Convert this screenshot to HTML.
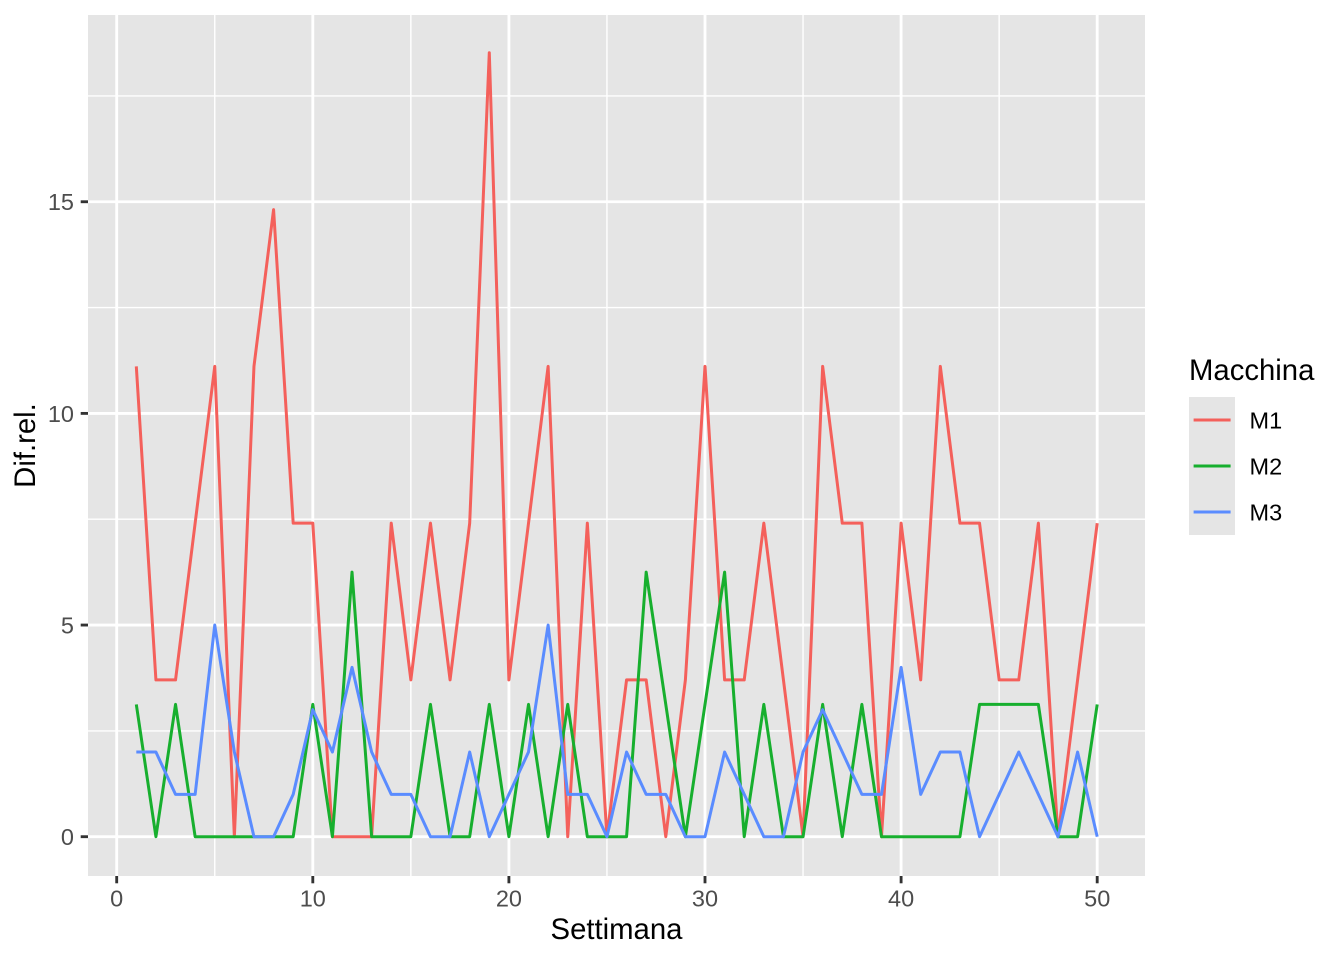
<!DOCTYPE html>
<html>
<head>
<meta charset="utf-8">
<style>
  html, body { margin: 0; padding: 0; background: #FFFFFF; }
  svg { display: block; }
  text { font-family: "Liberation Sans", Arial, Helvetica, sans-serif; }
</style>
</head>
<body>
<svg width="1344" height="960" viewBox="0 0 1344 960" xmlns="http://www.w3.org/2000/svg">
  <rect x="0" y="0" width="1344" height="960" fill="#FFFFFF"/>
  <!-- panel -->
  <rect x="88" y="15" width="1057" height="861" fill="#E5E5E5"/>
  <!-- minor grid -->
  <g stroke="#FFFFFF" stroke-width="1.42" fill="none">
    <line x1="88" x2="1145" y1="730.9" y2="730.9"/>
    <line x1="88" x2="1145" y1="519.2" y2="519.2"/>
    <line x1="88" x2="1145" y1="307.6" y2="307.6"/>
    <line x1="88" x2="1145" y1="95.9" y2="95.9"/>
    <line y1="15" y2="876" x1="214.75" x2="214.75"/>
    <line y1="15" y2="876" x1="410.85" x2="410.85"/>
    <line y1="15" y2="876" x1="606.95" x2="606.95"/>
    <line y1="15" y2="876" x1="803.05" x2="803.05"/>
    <line y1="15" y2="876" x1="999.15" x2="999.15"/>
  </g>
  <!-- major grid -->
  <g stroke="#FFFFFF" stroke-width="2.85" fill="none">
    <line x1="88" x2="1145" y1="836.7" y2="836.7"/>
    <line x1="88" x2="1145" y1="625.05" y2="625.05"/>
    <line x1="88" x2="1145" y1="413.4" y2="413.4"/>
    <line x1="88" x2="1145" y1="201.75" y2="201.75"/>
    <line y1="15" y2="876" x1="116.7" x2="116.7"/>
    <line y1="15" y2="876" x1="312.8" x2="312.8"/>
    <line y1="15" y2="876" x1="508.9" x2="508.9"/>
    <line y1="15" y2="876" x1="705.0" x2="705.0"/>
    <line y1="15" y2="876" x1="901.1" x2="901.1"/>
    <line y1="15" y2="876" x1="1097.2" x2="1097.2"/>
  </g>

  <!-- data series -->
  <g transform="translate(116.7,836.7) scale(19.61,-42.33)" fill="none" stroke-linejoin="round" stroke-linecap="butt">
    <polyline vector-effect="non-scaling-stroke" stroke="#F4605B" stroke-width="3"
      points="1,11.111 2,3.704 3,3.704 4,7.407 5,11.111 6,0 7,11.111 8,14.815 9,7.407 10,7.407 11,0 12,0 13,0 14,7.407 15,3.704 16,7.407 17,3.704 18,7.407 19,18.519 20,3.704 21,7.407 22,11.111 23,0 24,7.407 25,0 26,3.704 27,3.704 28,0 29,3.704 30,11.111 31,3.704 32,3.704 33,7.407 34,3.704 35,0 36,11.111 37,7.407 38,7.407 39,0 40,7.407 41,3.704 42,11.111 43,7.407 44,7.407 45,3.704 46,3.704 47,7.407 48,0 49,3.704 50,7.407"/>
    <polyline vector-effect="non-scaling-stroke" stroke="#17AF2E" stroke-width="3"
      points="1,3.125 2,0 3,3.125 4,0 5,0 6,0 7,0 8,0 9,0 10,3.125 11,0 12,6.25 13,0 14,0 15,0 16,3.125 17,0 18,0 19,3.125 20,0 21,3.125 22,0 23,3.125 24,0 25,0 26,0 27,6.25 28,3.125 29,0 30,3.125 31,6.25 32,0 33,3.125 34,0 35,0 36,3.125 37,0 38,3.125 39,0 40,0 41,0 42,0 43,0 44,3.125 45,3.125 46,3.125 47,3.125 48,0 49,0 50,3.125"/>
    <polyline vector-effect="non-scaling-stroke" stroke="#5A8CFF" stroke-width="3"
      points="1,2 2,2 3,1 4,1 5,5 6,2 7,0 8,0 9,1 10,3 11,2 12,4 13,2 14,1 15,1 16,0 17,0 18,2 19,0 20,1 21,2 22,5 23,1 24,1 25,0 26,2 27,1 28,1 29,0 30,0 31,2 32,1 33,0 34,0 35,2 36,3 37,2 38,1 39,1 40,4 41,1 42,2 43,2 44,0 45,1 46,2 47,1 48,0 49,2 50,0"/>
  </g>

  <!-- axis ticks -->
  <g stroke="#333333" stroke-width="2.85">
    <line x1="80.7" x2="88" y1="836.7" y2="836.7"/>
    <line x1="80.7" x2="88" y1="625.05" y2="625.05"/>
    <line x1="80.7" x2="88" y1="413.4" y2="413.4"/>
    <line x1="80.7" x2="88" y1="201.75" y2="201.75"/>
    <line y1="876" y2="883.3" x1="116.7" x2="116.7"/>
    <line y1="876" y2="883.3" x1="312.8" x2="312.8"/>
    <line y1="876" y2="883.3" x1="508.9" x2="508.9"/>
    <line y1="876" y2="883.3" x1="705.0" x2="705.0"/>
    <line y1="876" y2="883.3" x1="901.1" x2="901.1"/>
    <line y1="876" y2="883.3" x1="1097.2" x2="1097.2"/>
  </g>

  <!-- tick labels -->
  <g fill="#4D4D4D" font-size="23.5">
    <text x="74" y="845.1" text-anchor="end">0</text>
    <text x="74" y="633.45" text-anchor="end">5</text>
    <text x="74" y="421.8" text-anchor="end">10</text>
    <text x="74" y="210.15" text-anchor="end">15</text>
    <text x="116.7" y="906.5" text-anchor="middle">0</text>
    <text x="312.8" y="906.5" text-anchor="middle">10</text>
    <text x="508.9" y="906.5" text-anchor="middle">20</text>
    <text x="705.0" y="906.5" text-anchor="middle">30</text>
    <text x="901.1" y="906.5" text-anchor="middle">40</text>
    <text x="1097.2" y="906.5" text-anchor="middle">50</text>
  </g>

  <!-- axis titles -->
  <text x="616.5" y="939" text-anchor="middle" font-size="29.3" fill="#000000">Settimana</text>
  <text x="0" y="0" transform="translate(35,445.5) rotate(-90)" text-anchor="middle" font-size="29.3" fill="#000000">Dif.rel.</text>

  <!-- legend -->
  <text x="1189" y="380" font-size="29.3" fill="#000000">Macchina</text>
  <rect x="1189" y="397" width="46" height="138" fill="#E5E5E5"/>
  <line x1="1193.6" x2="1230.6" y1="420" y2="420" stroke="#F4605B" stroke-width="3"/>
  <line x1="1193.6" x2="1230.6" y1="466" y2="466" stroke="#17AF2E" stroke-width="3"/>
  <line x1="1193.6" x2="1230.6" y1="512" y2="512" stroke="#5A8CFF" stroke-width="3"/>
  <g font-size="23.5" fill="#000000">
    <text x="1249.5" y="428.6">M1</text>
    <text x="1249.5" y="474.6">M2</text>
    <text x="1249.5" y="520.6">M3</text>
  </g>
</svg>
</body>
</html>
